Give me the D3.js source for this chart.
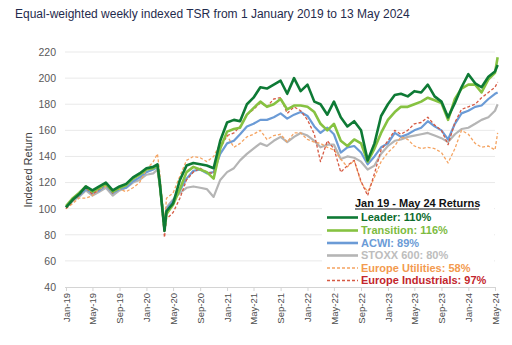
<!DOCTYPE html>
<html>
<head>
<meta charset="utf-8">
<script src="https://cdn.jsdelivr.net/npm/d3@7"></script>
<style>
  html, body { margin: 0; padding: 0; background: #ffffff; }
  svg { display: block; font-family: "Liberation Sans", Arial, sans-serif; }
</style>
</head>
<body>
<svg id="chart" width="512" height="345"></svg>
<script>
// ---- data ----
const dates = [
  "2019-01-01","2019-02-01","2019-03-01","2019-04-01","2019-05-01","2019-06-01","2019-07-01","2019-08-01","2019-09-01","2019-10-01","2019-11-01","2019-12-01",
  "2020-01-01","2020-02-01","2020-02-20","2020-03-01","2020-03-23","2020-04-01","2020-05-01","2020-06-01","2020-07-01","2020-08-01","2020-09-01","2020-10-01","2020-11-01","2020-12-01",
  "2021-01-01","2021-02-01","2021-03-01","2021-04-01","2021-05-01","2021-06-01","2021-07-01","2021-08-01","2021-09-01","2021-10-01","2021-11-01","2021-12-01",
  "2022-01-01","2022-02-01","2022-03-01","2022-04-01","2022-05-01","2022-06-01","2022-07-01","2022-08-01","2022-09-01","2022-10-01","2022-11-01","2022-12-01",
  "2023-01-01","2023-02-01","2023-03-01","2023-04-01","2023-05-01","2023-06-01","2023-07-01","2023-08-01","2023-09-01","2023-10-01","2023-11-01","2023-12-01",
  "2024-01-01","2024-02-01","2024-03-01","2024-04-01","2024-05-01","2024-05-13"
];
const leader = [
  101,107,111,117,114,117,120,114,117,119,124,127,
  131,132,134,121,83,98,104,122,133,135,134,133,131,152,
  166,168,167,180,185,193,192,195,198,188,200,190,
  195,182,180,172,182,170,163,167,160,137,150,171,
  180,187,188,186,190,189,195,186,182,170,181,193,
  203,196,193,201,205,210
];
const transition = [
  102,108,112,117,113,116,119,113,116,118,123,126,
  130,131,133,120,85,96,103,115,128,132,130,128,123,146,
  159,161,162,172,177,182,178,180,184,176,179,179,
  178,174,165,160,165,152,148,153,150,136,146,158,
  168,174,178,178,180,182,185,183,181,168,184,192,
  195,195,189,199,204,216
];
const acwi = [
  101,107,110,115,112,114,118,112,115,116,121,124,
  128,130,132,120,86,99,106,114,123,129,130,127,128,142,
  150,152,157,163,165,168,168,170,173,169,172,174,
  171,163,158,162,157,143,147,148,143,134,140,147,
  150,158,155,157,160,162,167,163,160,153,165,173,
  175,178,179,184,188,189
];
const stoxx = [
  101,106,109,114,110,113,116,110,114,116,120,122,
  126,127,130,118,88,101,107,112,116,117,116,115,109,122,
  128,131,137,142,146,150,148,152,155,151,155,158,
  156,152,147,149,149,138,140,139,136,130,133,142,
  148,152,153,155,156,157,158,156,154,151,157,161,
  162,165,168,170,175,180
];
const utilities = [
  100,104,108,108,110,115,117,114,115,113,116,120,
  130,136,142,128,88,108,112,125,137,140,139,136,140,150,
  156,147,150,155,157,160,153,156,157,151,158,158,
  153,151,150,147,145,138,132,137,120,113,124,136,
  143,148,155,153,148,146,147,146,143,135,146,160,
  157,150,147,148,145,158
];
const industrials = [
  100,106,110,116,111,115,119,112,116,118,123,126,
  130,132,134,118,78,92,97,108,122,128,131,128,127,146,
  156,158,163,172,176,181,178,184,185,173,178,175,
  168,157,136,152,146,128,133,137,121,110,127,145,
  152,160,157,160,165,166,170,164,160,149,166,176,
  178,180,185,189,193,197
];
const seriesNames = ["Leader: 110%","Transition: 116%","ACWI: 89%","STOXX 600: 80%","Europe Utilities: 58%","Europe Industrials: 97%"];
const yTicks = [40,60,80,100,120,140,160,180,200,220];
const xTickDates = ["2019-01-01","2019-05-01","2019-09-01","2020-01-01","2020-05-01","2020-09-01","2021-01-01","2021-05-01","2021-09-01","2022-01-01","2022-05-01","2022-09-01","2023-01-01","2023-05-01","2023-09-01","2024-01-01","2024-05-01"];
const titleText = "Equal-weighted weekly indexed TSR from 1 January 2019 to 13 May 2024";
const yAxisTitle = "Indexed Return";
const legendTitle = "Jan 19 - May 24 Returns";

// ---- styles ----
const styles = [
  {stroke:"#0e7a35", width:2.6, dash:null, text:"#0b6b2c"},
  {stroke:"#86c241", width:2.6, dash:null, text:"#7dbb3f"},
  {stroke:"#6b9bd6", width:2.2, dash:null, text:"#6b9bd6"},
  {stroke:"#b5b5b5", width:2.2, dash:null, text:"#bdbdbd"},
  {stroke:"#f5a462", width:1.3, dash:"3,2", text:"#f39a4e"},
  {stroke:"#d65a43", width:1.3, dash:"3,2", text:"#c3262c"}
];
const allSeries = [leader, transition, acwi, stoxx, utilities, industrials];

const parse = d3.utcParse("%Y-%m-%d");
const svg = d3.select("#chart");

const x = d3.scaleUtc()
  .domain([parse("2019-01-01"), parse("2024-05-01")])
  .range([66, 495]);
const y = d3.scaleLinear().domain([40, 220]).range([287, 52]);

// title
svg.append("text")
  .attr("x", 15).attr("y", 18)
  .attr("font-size", 12).attr("fill", "#1f2b4d")
  .text(titleText);

// gridlines
svg.append("g").selectAll("line")
  .data(yTicks.filter(v => v > 40))
  .join("line")
  .attr("x1", 65).attr("x2", 495)
  .attr("y1", d => y(d)).attr("y2", d => y(d))
  .attr("stroke", "#e9e9e9").attr("stroke-width", 1);

// y axis labels
const yAxis = d3.axisLeft(y).tickValues(yTicks).tickSize(0).tickPadding(9);
const gy = svg.append("g").attr("transform", "translate(65,0)").call(yAxis);
gy.select(".domain").remove();
gy.selectAll("text").attr("font-size", 10.5).attr("fill", "#595959")
  .attr("font-family", "Liberation Sans, Arial, sans-serif");

// x axis
const xAxis = d3.axisBottom(x)
  .tickValues(xTickDates.map(parse))
  .tickFormat(d3.utcFormat("%b-%y"))
  .tickSize(4).tickSizeOuter(0);
const gx = svg.append("g").attr("transform", "translate(0," + y(40) + ")").call(xAxis);
gx.select(".domain").attr("stroke", "#d4d4d4").attr("d", "M65,0.5H495");
gx.selectAll(".tick line").attr("stroke", "#d4d4d4");
gx.selectAll("text")
  .attr("font-size", 9.5).attr("fill", "#4d4d4d")
  .attr("font-family", "Liberation Sans, Arial, sans-serif")
  .attr("transform", "rotate(-90)")
  .attr("text-anchor", "end")
  .attr("x", -6).attr("y", 0).attr("dy", "0.35em");

// y axis title
svg.append("text")
  .attr("transform", "translate(32,170) rotate(-90)")
  .attr("text-anchor", "middle")
  .attr("font-size", 11).attr("fill", "#404040")
  .text(yAxisTitle);

// lines
const line = d3.line()
  .x((d, i) => x(parse(dates[i])))
  .y(d => y(d));
const order = [3, 2, 4, 5, 1, 0];
order.forEach(k => {
  const st = styles[k];
  svg.append("path")
    .datum(allSeries[k])
    .attr("d", line)
    .attr("fill", "none")
    .attr("stroke", st.stroke)
    .attr("stroke-width", st.width)
    .attr("stroke-linejoin", "round")
    .attr("stroke-dasharray", st.dash);
});

// legend
const lg = svg.append("g");
lg.append("rect").attr("x", 322).attr("y", 196).attr("width", 172).attr("height", 90).attr("fill", "#ffffff");
lg.append("text")
  .attr("x", 355).attr("y", 207)
  .attr("font-size", 11).attr("font-weight", "bold").attr("fill", "#111111")
  .text(legendTitle);
lg.append("line").attr("x1", 355).attr("x2", 479).attr("y1", 209).attr("y2", 209)
  .attr("stroke", "#111111").attr("stroke-width", 1);
const rowY = [217.5, 230.5, 243, 255.5, 268, 280.5];
seriesNames.forEach((name, i) => {
  const st = styles[i];
  lg.append("line")
    .attr("x1", 327).attr("x2", 358)
    .attr("y1", rowY[i]).attr("y2", rowY[i])
    .attr("stroke", st.stroke)
    .attr("stroke-width", st.dash ? 1.3 : 2.6)
    .attr("stroke-dasharray", st.dash);
  lg.append("text")
    .attr("x", 361).attr("y", rowY[i]).attr("dy", "0.35em")
    .attr("font-size", 11).attr("font-weight", "bold").attr("fill", st.text)
    .text(name);
});
</script>
</body>
</html>
